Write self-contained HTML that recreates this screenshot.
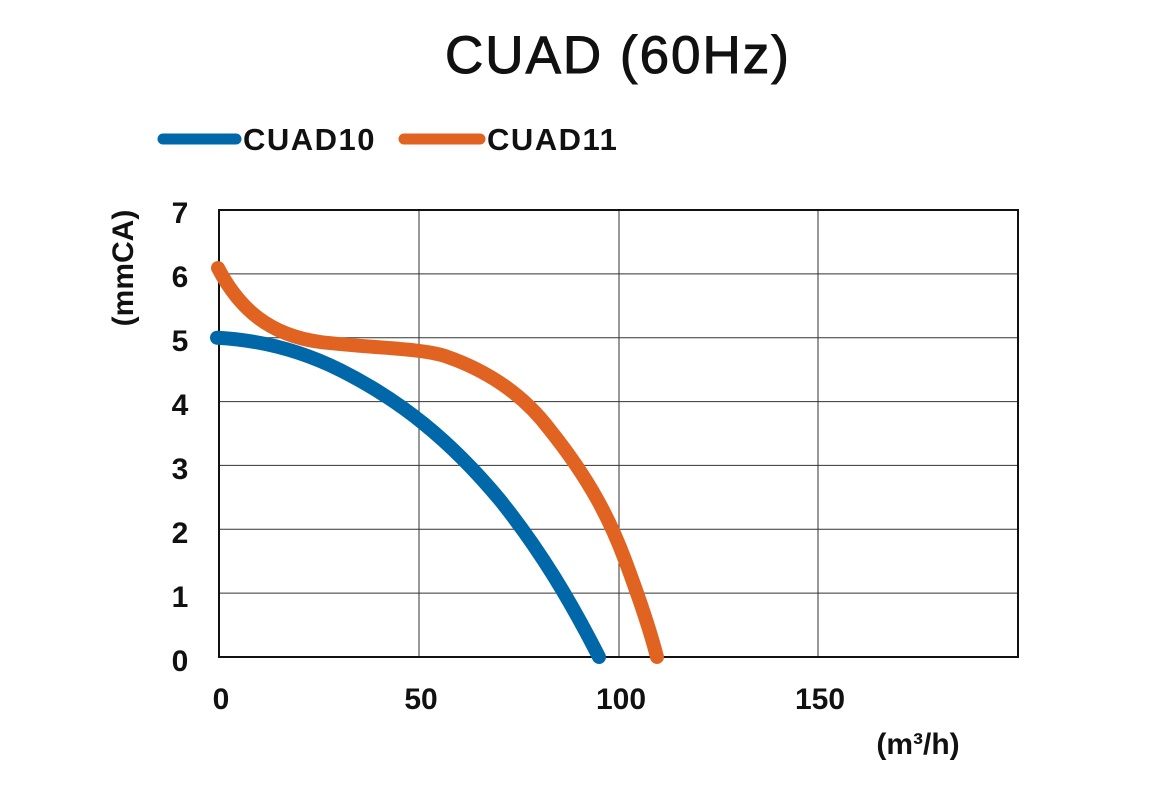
<!DOCTYPE html>
<html><head><style>body{margin:0;background:#fff}</style></head><body>
<svg width="1150" height="789" xmlns="http://www.w3.org/2000/svg" font-family="Liberation Sans, Arial, sans-serif">
<rect width="1150" height="789" fill="#fff"/>
<text x="618" y="73" text-anchor="middle" font-size="53" letter-spacing="2" fill="#111" stroke="#111" stroke-width="1">CUAD (60Hz)</text>
<line x1="163" y1="139" x2="236" y2="139" stroke="#0068a8" stroke-width="11" stroke-linecap="round"/>
<text x="243" y="150" font-size="31" font-weight="bold" letter-spacing="1.5" fill="#111">CUAD10</text>
<line x1="404" y1="139" x2="480" y2="139" stroke="#e06322" stroke-width="11" stroke-linecap="round"/>
<text x="487" y="150" font-size="31" font-weight="bold" letter-spacing="1.5" fill="#111">CUAD11</text>
<g stroke="#333" stroke-width="1">
<line x1="219" y1="273.9" x2="1018" y2="273.9"/><line x1="219" y1="337.7" x2="1018" y2="337.7"/>
<line x1="219" y1="401.6" x2="1018" y2="401.6"/><line x1="219" y1="465.4" x2="1018" y2="465.4"/>
<line x1="219" y1="529.3" x2="1018" y2="529.3"/><line x1="219" y1="593.1" x2="1018" y2="593.1"/>
<line x1="419" y1="210" x2="419" y2="657"/><line x1="619" y1="210" x2="619" y2="657"/><line x1="818" y1="210" x2="818" y2="657"/>
</g>
<rect x="219" y="210" width="799" height="447" fill="none" stroke="#111" stroke-width="2"/>
<g font-size="30" font-weight="bold" fill="#111" text-anchor="middle">
<text x="180" y="223">7</text><text x="180" y="287">6</text><text x="180" y="351">5</text><text x="180" y="415">4</text>
<text x="180" y="479">3</text><text x="180" y="543">2</text><text x="180" y="607">1</text><text x="180" y="671">0</text>
<text x="221" y="709">0</text><text x="421" y="709">50</text><text x="621" y="709">100</text><text x="820" y="709">150</text>
<text x="918" y="754">(m³/h)</text>
<text transform="translate(133,268) rotate(-90)">(mmCA)</text>
</g>
<path d="M217,337.7 C260,340 300,350 340,370 C400,400 450,440 500,500 C540,550 570,600 599,657" fill="none" stroke="#0068a8" stroke-width="14" stroke-linecap="round"/>
<path d="M218,268 C240,310 270,335 320,342 C370,348 420,348 445,356 C480,368 520,390 550,430 C590,480 610,520 625,560 C640,600 650,630 657,657" fill="none" stroke="#e06322" stroke-width="14" stroke-linecap="round"/>
</svg>
</body></html>
